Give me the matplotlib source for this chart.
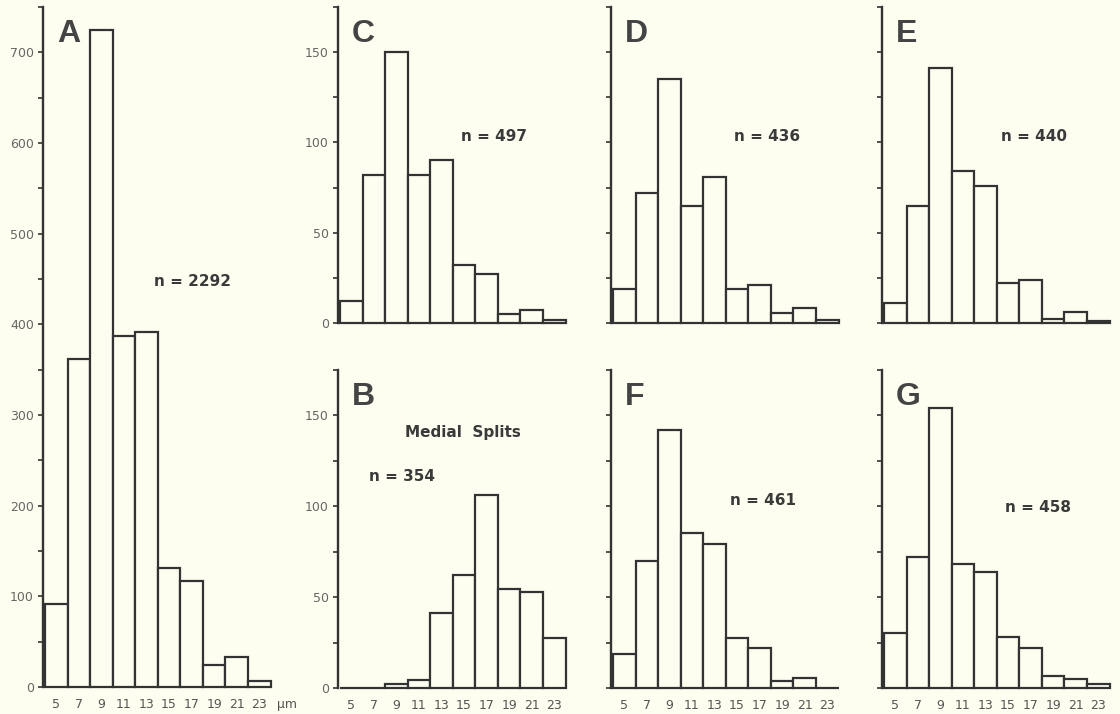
import numpy as np
import matplotlib
matplotlib.use('Agg')
import matplotlib.pyplot as plt
from matplotlib.ticker import MultipleLocator

plt.rcParams['font.family'] = ['DejaVu Sans']

# Data: fibre diameter classes (um) and counts per panel
bins = [5, 7, 9, 11, 13, 15, 17, 19, 21, 23]
counts_a = [92, 362, 725, 387, 392, 131, 117, 24, 33, 7]
counts_c = [12, 82, 150, 82, 90, 32, 27, 5, 7, 1.5]
counts_d = [19, 72, 135, 65, 81, 19, 21, 5.5, 8.5, 1.5]
counts_e = [11, 65, 141, 84, 76, 22, 24, 2, 6, 1.3]
counts_b = [0, 0, 2, 4.5, 41, 62, 106, 54.5, 53, 27.5]
counts_f = [18.5, 70, 142, 85.5, 79.5, 27.5, 22, 4, 5.7, 0]
counts_g = [30, 72, 154, 68, 64, 28, 22, 6.6, 5.1, 2.4]

n_a, n_b, n_c, n_d, n_e, n_f, n_g = 2292, 354, 497, 436, 440, 461, 458

bg = '#fdfdf0'
ink = '#333333'
W, H = 1120, 714

fig = plt.figure(figsize=(W / 100, H / 100), dpi=100, facecolor=bg)


def make_axes(left, top, bottom, width=231):
    return fig.add_axes([left / W, 1 - bottom / H, width / W, (bottom - top) / H])


def draw_panel(ax, counts, letter, ytop, major, ylabels, xlabels):
    ax.set_facecolor('none')
    ax.bar(bins, counts, width=2, facecolor=bg, edgecolor=ink,
           linewidth=1.6, clip_on=False)
    ax.set_xlim(3.82, 24.3)
    ax.set_ylim(0, ytop)
    for s in ['top', 'right', 'bottom']:
        ax.spines[s].set_visible(False)
    ax.spines['left'].set_linewidth(1.7)
    ax.spines['left'].set_color(ink)
    ax.yaxis.set_major_locator(MultipleLocator(major))
    ax.yaxis.set_minor_locator(MultipleLocator(major / 2))
    ax.tick_params(axis='y', which='both', direction='out', length=3.5,
                   width=1.2, color=ink, pad=3, labelsize=9,
                   labelcolor='#666666', labelleft=ylabels)
    ax.set_xticks(bins)
    ax.tick_params(axis='x', length=0, pad=8, labelsize=9,
                   labelcolor='#555555', labelbottom=xlabels)
    ax.annotate(letter, xy=(0, 1), xycoords='axes fraction',
                xytext=(10, -25), textcoords='offset points',
                ha='left', va='baseline', fontsize=23, fontweight='bold',
                color='#444444', family='Liberation Sans')


def note(ax, txt, x, y):
    ax.text(x, y, txt, transform=ax.transAxes, ha='center', va='center',
            fontsize=11, fontweight='bold', color='#3a3a3a')


# Panel A (tall, left column)
ax_a = make_axes(43, 7, 687)
draw_panel(ax_a, counts_a, 'A', 750, 100, True, True)
note(ax_a, 'n = %d' % n_a, 0.649, 0.596)
ax_a.annotate('\u03bcm', xy=(24.6, 0), xycoords=('data', 'axes fraction'),
              xytext=(0, -8), textcoords='offset points', ha='left', va='top',
              fontsize=9, color='#555555')

# Top row
ax_c = make_axes(338, 7, 323)
draw_panel(ax_c, counts_c, 'C', 175, 50, True, False)
note(ax_c, 'n = %d' % n_c, 0.675, 0.589)

ax_d = make_axes(611, 7, 323)
draw_panel(ax_d, counts_d, 'D', 175, 50, False, False)
note(ax_d, 'n = %d' % n_d, 0.675, 0.589)

ax_e = make_axes(882, 7, 323)
draw_panel(ax_e, counts_e, 'E', 175, 50, False, False)
note(ax_e, 'n = %d' % n_e, 0.658, 0.589)

# Bottom row
ax_b = make_axes(338, 370, 688)
draw_panel(ax_b, counts_b, 'B', 175, 50, True, True)
note(ax_b, 'Medial  Splits', 0.541, 0.802)
note(ax_b, 'n = %d' % n_b, 0.277, 0.664)

ax_f = make_axes(611, 370, 688)
draw_panel(ax_f, counts_f, 'F', 175, 50, False, True)
note(ax_f, 'n = %d' % n_f, 0.658, 0.591)

ax_g = make_axes(882, 370, 688)
draw_panel(ax_g, counts_g, 'G', 175, 50, False, True)
note(ax_g, 'n = %d' % n_g, 0.675, 0.569)

fig.savefig('out.png', dpi=100, facecolor=bg)
